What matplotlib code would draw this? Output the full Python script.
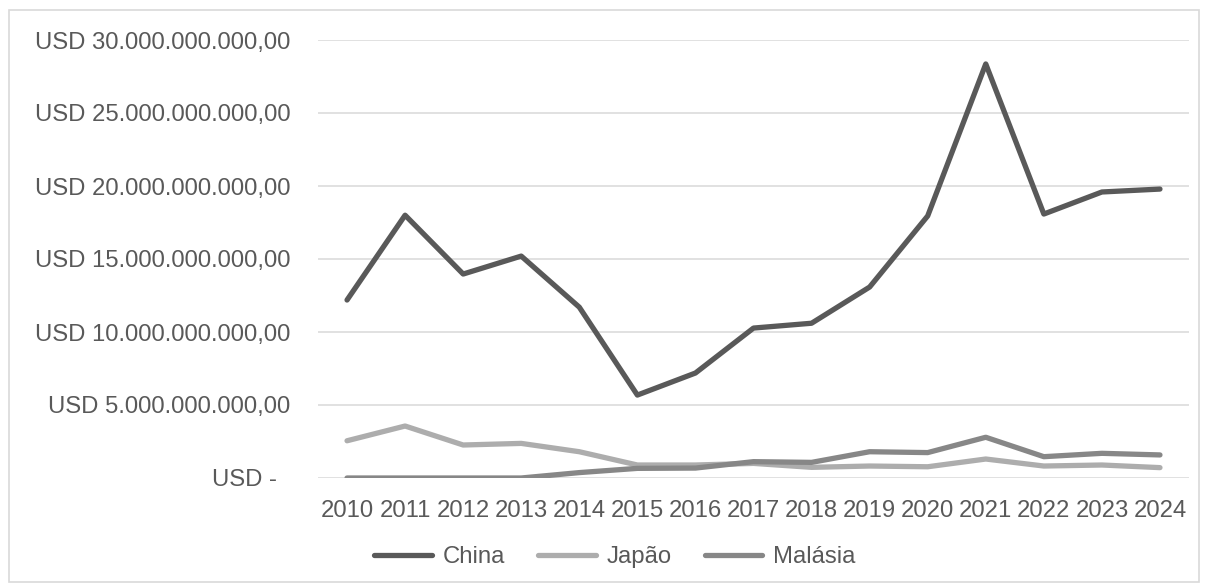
import matplotlib
matplotlib.use("Agg")
import matplotlib.pyplot as plt
from matplotlib.ticker import FixedLocator, FuncFormatter
from matplotlib.patches import Rectangle

years = ["2010", "2011", "2012", "2013", "2014", "2015", "2016", "2017",
         "2018", "2019", "2020", "2021", "2022", "2023", "2024"]
china = [12.19, 18.0, 13.97, 15.2, 11.7, 5.68, 7.19, 10.27, 10.6, 13.08,
         17.95, 28.36, 18.08, 19.59, 19.79]
japao = [2.55, 3.56, 2.26, 2.37, 1.80, 0.89, 0.89, 1.00, 0.73, 0.82,
         0.77, 1.30, 0.82, 0.89, 0.71]
malasia = [0.0, 0.0, 0.0, 0.0, 0.37, 0.66, 0.68, 1.12, 1.07, 1.80,
           1.74, 2.79, 1.46, 1.69, 1.58]
series_names = ["China", "Japão", "Malásia"]
yticks_bn = [0, 5, 10, 15, 20, 25, 30]

plt.rcParams["font.family"] = ["Liberation Sans", "DejaVu Sans"]

W, H = 1208, 587
fig = plt.figure(figsize=(W / 100, H / 100), dpi=100)
fig.patches.append(Rectangle((9 / W, 1 - 582 / H), (1199 - 9) / W, (582 - 10) / H,
                             transform=fig.transFigure, fill=False,
                             edgecolor="#D9D9D9", linewidth=1.2, zorder=0))

left, right, top, bottom = 318, 1189, 40, 478
ax = fig.add_axes([left / W, 1 - bottom / H, (right - left) / W, (bottom - top) / H])

x = list(range(len(years)))
colors = ["#595959", "#ADADAD", "#878787"]
data = [china, japao, malasia]
for name, vals, c in zip(series_names, data, colors):
    ax.plot(x, [v * 1e9 for v in vals], color=c, linewidth=3.8,
            solid_capstyle="round", solid_joinstyle="round", label=name, zorder=3)

ax.set_xlim(-0.5, len(years) - 0.5)
ax.set_ylim(0, 30e9)
ax.set_xticks(x)
ax.set_xticklabels(years)
ax.yaxis.set_major_locator(FixedLocator([v * 1e9 for v in yticks_bn]))

def fmt(v, pos):
    b = int(round(v / 1e9))
    if b == 0:
        return "USD -  "
    s = f"{b * 1000000000:,}".replace(",", ".")
    return f"USD {s},00"

FS = 17.2
ax.yaxis.set_major_formatter(FuncFormatter(fmt))
ax.grid(axis="y", color="#D9D9D9", linewidth=1.1, zorder=0)
for s in ax.spines.values():
    s.set_visible(False)
ax.tick_params(axis="both", length=0, labelsize=FS, colors="#595959")
ax.tick_params(axis="y", pad=20)
ax.tick_params(axis="x", pad=16)

leg = fig.legend(loc="center", bbox_to_anchor=(615 / W, 1 - 557 / H), ncol=3,
                 frameon=False, fontsize=FS, handlelength=2.4, columnspacing=1.4,
                 handletextpad=0.45)
for t in leg.get_texts():
    t.set_color("#595959")

fig.savefig("out.png", dpi=100)
